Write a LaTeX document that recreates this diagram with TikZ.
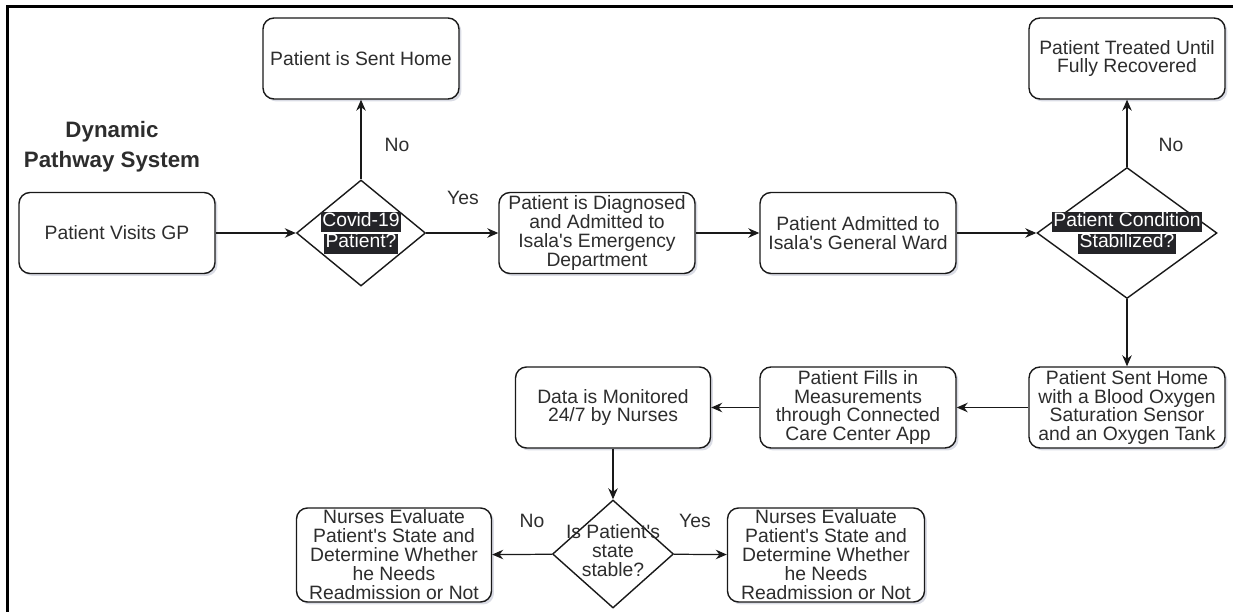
\documentclass[tikz,border=0pt]{standalone}
\usepackage{fontspec}
\setmainfont{Liberation Sans}
\usepackage{xcolor}
\usepackage{tikz}
\usetikzlibrary{shapes.geometric, arrows.meta, positioning, shadows}
\definecolor{boxline}{RGB}{25,25,25}
\definecolor{txtgray}{RGB}{45,45,45}
\definecolor{hlgray}{RGB}{36,36,40}
\definecolor{shadowblue}{RGB}{150,155,180}
\newcommand{\hlt}[1]{{\setlength{\fboxsep}{0pt}\colorbox{hlgray}{\strut\hspace{1pt}\textcolor{white}{#1}\hspace{1pt}}}}
\newcommand{\q}{\textquotesingle}
\tikzset{
  stepbox/.style={rectangle, draw=boxline, fill=white, rounded corners=0.22cm,
    minimum width=3.92cm, minimum height=1.62cm, inner sep=0pt, align=center,
    font=\fontsize{11}{10.8}\selectfont, text=txtgray, line width=0.8pt,
    drop shadow={shadow xshift=1.4pt, shadow yshift=-1.4pt, fill=shadowblue, opacity=0.35}},
  decision/.style={diamond, draw=boxline, fill=white, inner sep=0pt, line width=0.8pt},
  dtext/.style={align=center, font=\fontsize{11}{10.8}\selectfont, text=txtgray, inner sep=0pt},
  edgelabel/.style={font=\fontsize{11}{12}\selectfont, text=txtgray},
  arrow/.style={-{Stealth[length=0.22cm, width=0.19cm]}, line width=0.7pt, color=boxline}
}
\begin{document}
\begin{tikzpicture}
  \useasboundingbox (0,0) rectangle (24.66,-12.24);
  % frame
  \draw[line width=0.06cm] (24.66,-0.14) -- (0.14,-0.14) -- (0.14,-12.24);

  % title
  \node[align=center, font=\bfseries\fontsize{12.7}{17}\selectfont, text=txtgray] (title) at (2.24,-2.94) {Dynamic\\Pathway System};

  % top row
  \node[stepbox] (visits) at (2.34,-4.66) {Patient Visits GP};
  \node[decision, minimum width=2.58cm, minimum height=2.12cm] (covid) at (7.22,-4.66) {};
  \node[dtext] (covidtxt) at (covid) {\hlt{Covid-19}\\\hlt{Patient?}};
  \node[stepbox] (senthome) at (7.22,-1.17) {Patient is Sent Home};
  \node[stepbox] (diagnosed) at (11.94,-4.66) {Patient is Diagnosed\\and Admitted to\\Isala\q s Emergency\\Department};
  \node[stepbox] (ward) at (17.16,-4.66) {Patient Admitted to\\Isala\q s General Ward};
  \node[decision, minimum width=3.6cm, minimum height=2.62cm] (stab) at (22.54,-4.66) {};
  \node[dtext] (stabtxt) at (stab) {\hlt{Patient Condition}\\\hlt{Stabilized?}};
  \node[stepbox] (treated) at (22.54,-1.17) {Patient Treated Until\\Fully Recovered};

  % middle row
  \node[stepbox] (oxygen) at (22.54,-8.15) {Patient Sent Home\\with a Blood Oxygen\\Saturation Sensor\\and an Oxygen Tank};
  \node[stepbox] (fills) at (17.16,-8.15) {Patient Fills in\\Measurements\\through Connected\\Care Center App};
  \node[stepbox, minimum width=3.9cm] (data) at (12.26,-8.15) {Data is Monitored\\24/7 by Nurses};

  % bottom row
  \node[decision, minimum width=2.42cm, minimum height=2.16cm] (stable) at (12.26,-11.08) {};
  \node[dtext] (stabletxt) at (12.26,-11.02) {Is Patient\q s\\state\\stable?};
  \node[stepbox, minimum width=3.9cm, minimum height=1.88cm] (nurseL) at (7.88,-11.1) {Nurses Evaluate\\Patient\q s State and\\Determine Whether\\he Needs\\Readmission or Not};
  \node[stepbox, minimum width=3.94cm, minimum height=1.88cm] (nurseR) at (16.52,-11.1) {Nurses Evaluate\\Patient\q s State and\\Determine Whether\\he Needs\\Readmission or Not};

  % connectors
  \draw[arrow] (visits) -- (covid);
  \draw[arrow] (covid) -- (senthome);
  \draw[arrow] (covid) -- (diagnosed);
  \draw[arrow] (diagnosed) -- (ward);
  \draw[arrow] (ward) -- (stab);
  \draw[arrow] (stab) -- (treated);
  \draw[arrow] (stab) -- (oxygen);
  \draw[arrow] (oxygen) -- (fills);
  \draw[arrow] (fills) -- (data);
  \draw[arrow] (data) -- (stable);
  \draw[arrow] (stable) -- (nurseL);
  \draw[arrow] (stable) -- (nurseR);

  % labels
  \node[edgelabel] (no1) at (7.94,-2.9) {No};
  \node[edgelabel] (yes1) at (9.26,-3.96) {Yes};
  \node[edgelabel] (no2) at (23.42,-2.9) {No};
  \node[edgelabel] (no3) at (10.64,-10.42) {No};
  \node[edgelabel] (yes3) at (13.9,-10.42) {Yes};
\end{tikzpicture}
\end{document}
